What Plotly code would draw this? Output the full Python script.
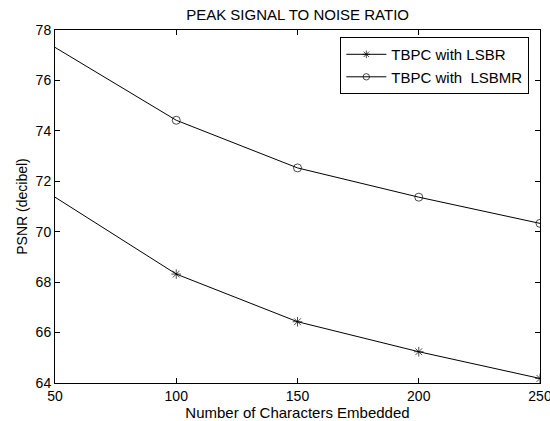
import plotly.graph_objects as go

chars = [50, 100, 150, 200, 250]
psnr_lsbr = [71.37, 68.32, 66.43, 65.24, 64.18]
psnr_lsbmr = [77.31, 74.42, 72.53, 71.37, 70.33]
marker_sizes = [0, 8, 8, 8, 8]

fig = go.Figure()
fig.add_trace(go.Scatter(
    x=chars, y=psnr_lsbr, mode="lines+markers", name="TBPC with LSBR",
    line=dict(color="black", width=1),
    marker=dict(symbol="asterisk-open", size=marker_sizes, color="black",
                line=dict(color="black", width=1)),
))
fig.add_trace(go.Scatter(
    x=chars, y=psnr_lsbmr, mode="lines+markers", name="TBPC with  LSBMR",
    line=dict(color="black", width=1),
    marker=dict(symbol="circle-open", size=marker_sizes, color="black",
                line=dict(color="black", width=1)),
))

font_fam = "Arial, Liberation Sans, sans-serif"
axis_common = dict(
    showgrid=False, zeroline=False, showline=True, linecolor="black", linewidth=1,
    mirror="allticks", ticks="inside", ticklen=5, tickcolor="black",
    tickfont=dict(family=font_fam, size=14, color="black"),
    ticklabeloverflow="allow", automargin=False,
)
fig.update_layout(
    width=550, height=421,
    margin=dict(l=55, r=10, t=30, b=38),
    paper_bgcolor="white", plot_bgcolor="white",
    title=dict(text="PEAK SIGNAL TO NOISE RATIO", x=0.541, xanchor="center",
               y=0.965, yanchor="middle",
               font=dict(family=font_fam, size=15, color="black")),
    xaxis=dict(range=[50, 250], tickvals=[50, 100, 150, 200, 250],
               title=dict(text="Number of Characters Embedded", standoff=2,
                          font=dict(family=font_fam, size=15, color="black")),
               **axis_common),
    yaxis=dict(range=[64, 78], tickvals=[64, 66, 68, 70, 72, 74, 76, 78],
               title=dict(text="PSNR (decibel)", standoff=4,
                          font=dict(family=font_fam, size=14, color="black")),
               **axis_common),
    legend=dict(x=0.978, y=0.98, xanchor="right", yanchor="top",
                bgcolor="white", bordercolor="black", borderwidth=1,
                font=dict(family=font_fam, size=15, color="black"),
                tracegroupgap=0, itemwidth=40),
    showlegend=True,
)
fig.write_html("out.html")
